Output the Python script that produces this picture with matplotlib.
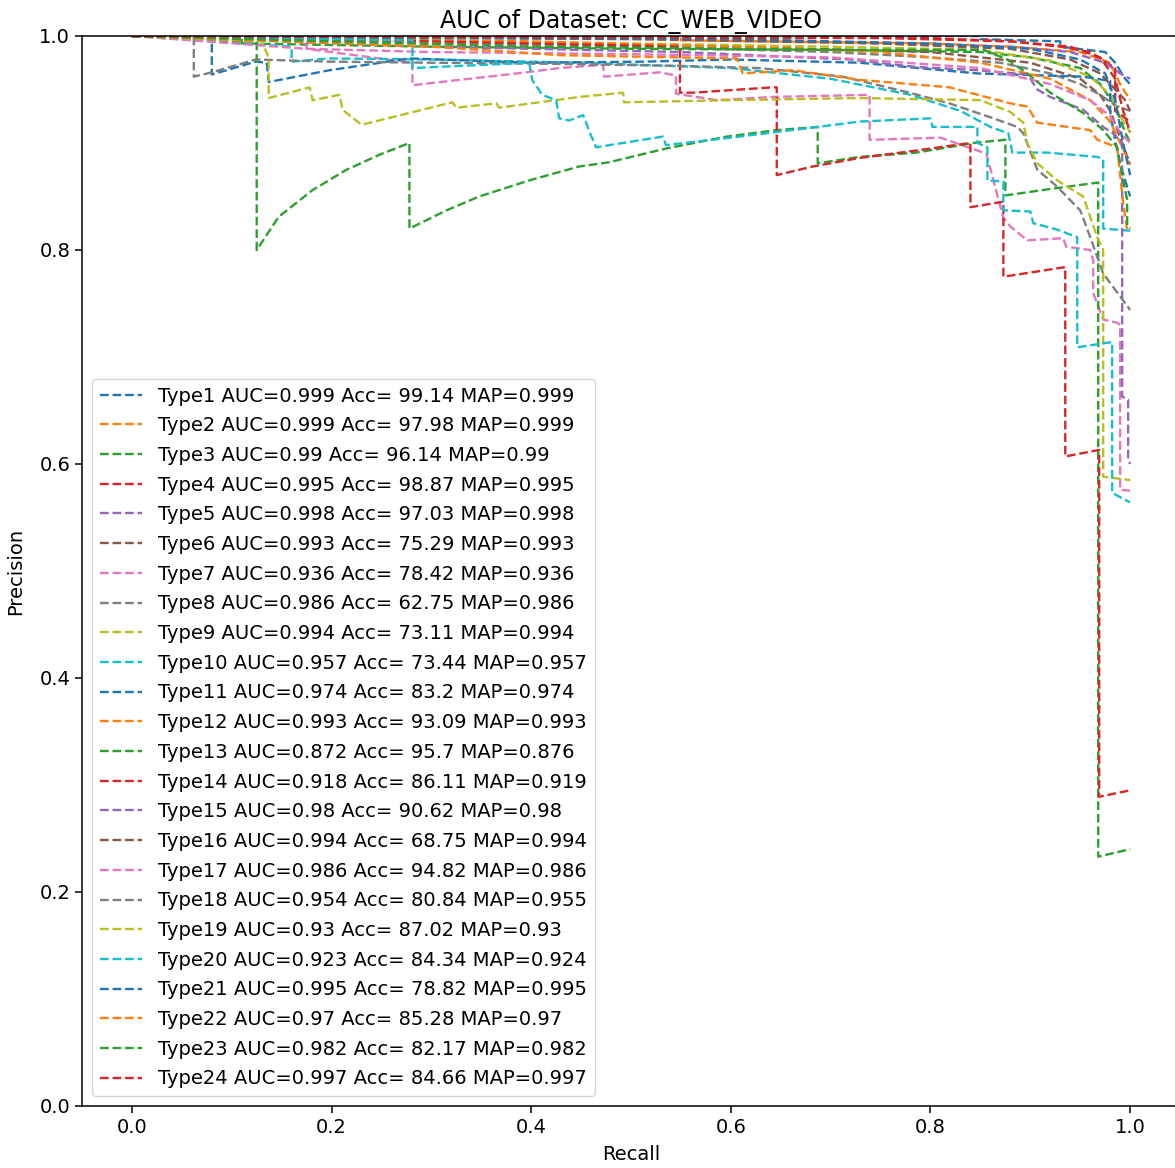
import matplotlib
matplotlib.use("Agg")
from matplotlib import pyplot as plt

# legend text for each type
types = ["Type%d" % i for i in range(1, 25)]
auc = [0.999, 0.999, 0.99, 0.995, 0.998, 0.993, 0.936, 0.986, 0.994, 0.957, 0.974, 0.993,
       0.872, 0.918, 0.98, 0.994, 0.986, 0.954, 0.93, 0.923, 0.995, 0.97, 0.982, 0.997]
acc = ["99.14", "97.98", "96.14", "98.87", "97.03", "75.29", "78.42", "62.75", "73.11", "73.44", "83.2", "93.09",
       "95.7", "86.11", "90.62", "68.75", "94.82", "80.84", "87.02", "84.34", "78.82", "85.28", "82.17", "84.66"]
maps = [0.999, 0.999, 0.99, 0.995, 0.998, 0.993, 0.936, 0.986, 0.994, 0.957, 0.974, 0.993,
        0.876, 0.919, 0.98, 0.994, 0.986, 0.955, 0.93, 0.924, 0.995, 0.97, 0.982, 0.997]

# recall / precision points
r1 = [0, 0.85, 0.85, 0.93, 0.93, 0.975, 0.985, 0.995, 1.0]
p1 = [1, 1, 0.997, 0.995, 0.99, 0.985, 0.975, 0.96, 0.955]
r2 = [0, 0.55, 0.55, 0.8, 0.88, 0.95, 0.98, 0.99, 1.0]
p2 = [1, 1, 0.996, 0.993, 0.99, 0.985, 0.975, 0.955, 0.94]
r3 = [0, 0.11, 0.11, 0.3, 0.5, 0.7, 0.85, 0.9, 0.95, 0.97, 0.985, 0.995, 1.0]
p3 = [1, 1, 0.993, 0.99, 0.988, 0.987, 0.985, 0.98, 0.97, 0.955, 0.935, 0.91, 0.90]
r4 = [0, 0.7, 0.8, 0.88, 0.93, 0.96, 0.985, 0.985, 1.0]
p4 = [1, 1, 0.998, 0.995, 0.99, 0.985, 0.97, 0.93, 0.92]
r5 = [0, 0.6, 0.75, 0.88, 0.94, 0.975, 0.99, 1.0]
p5 = [1, 0.997, 0.993, 0.99, 0.985, 0.975, 0.965, 0.96]
r6 = [0, 0.35, 0.6, 0.8, 0.9, 0.95, 0.97, 0.98, 0.99, 1.0]
p6 = [1, 0.995, 0.99, 0.985, 0.975, 0.96, 0.945, 0.93, 0.905, 0.88]
r7 = [0, 0.175, 0.175, 0.281, 0.281, 0.395, 0.428, 0.472, 0.473, 0.529, 0.545, 0.545, 0.586, 0.642,
      0.739, 0.739, 0.742, 0.81, 0.856, 0.873, 0.88, 0.897, 0.933, 0.936, 0.96, 0.963, 0.963, 0.973,
      0.987, 0.99, 0.99, 1.0]
p7 = [1, 0.995, 0.988, 0.975, 0.954, 0.966, 0.970, 0.973, 0.962, 0.966, 0.963, 0.946, 0.94, 0.943,
      0.945, 0.903, 0.903, 0.905, 0.89, 0.83, 0.822, 0.809, 0.811, 0.803, 0.80, 0.79, 0.76, 0.735,
      0.732, 0.73, 0.576, 0.575]
r8 = [0, 0.5, 0.7, 0.8, 0.87, 0.92, 0.95, 0.97, 0.985, 1.0]
p8 = [1, 0.99, 0.985, 0.98, 0.975, 0.965, 0.955, 0.945, 0.935, 0.93]
r9 = [0, 0.3, 0.5, 0.7, 0.85, 0.92, 0.96, 0.98, 0.99, 1.0]
p9 = [1, 0.995, 0.993, 0.99, 0.987, 0.977, 0.962, 0.945, 0.925, 0.91]
r10 = [0, 0.16, 0.16, 0.198, 0.3, 0.45, 0.6, 0.7, 0.78, 0.83, 0.86, 0.878, 0.882, 0.917, 0.967,
       0.973, 0.973, 1.0]
p10 = [1, 0.99, 0.976, 0.979, 0.978, 0.975, 0.97, 0.96, 0.945, 0.93, 0.915, 0.909, 0.891, 0.891,
       0.887, 0.885, 0.82, 0.818]
r11 = [0, 0.08, 0.08, 0.124, 0.135, 0.137, 0.198, 0.278, 0.4, 0.512, 0.6, 0.729, 0.847, 0.953,
       0.98, 0.98, 0.983, 0.99, 1.0]
p11 = [1, 1, 0.964, 0.976, 0.975, 0.957, 0.968, 0.979, 0.975, 0.976, 0.978, 0.975, 0.965, 0.962,
       0.958, 0.93, 0.912, 0.88, 0.85]
r12 = [0, 0.4, 0.6, 0.75, 0.85, 0.92, 0.96, 0.98, 0.99, 1.0]
p12 = [1, 0.995, 0.99, 0.985, 0.975, 0.96, 0.94, 0.92, 0.9, 0.88]
r13 = [0, 0.11, 0.125, 0.125, 0.147, 0.181, 0.215, 0.248, 0.278, 0.278, 0.315, 0.348, 0.398, 0.448,
       0.478, 0.536, 0.596, 0.646, 0.687, 0.687, 0.729, 0.786, 0.843, 0.875, 0.875, 0.92, 0.968,
       0.968, 1.0]
p13 = [1, 0.995, 0.995, 0.80, 0.831, 0.856, 0.875, 0.889, 0.90, 0.82, 0.837, 0.85, 0.865, 0.878,
       0.882, 0.895, 0.906, 0.912, 0.915, 0.881, 0.887, 0.891, 0.90, 0.903, 0.851, 0.857, 0.863,
       0.233, 0.24]
r14 = [0, 0.3, 0.549, 0.549, 0.562, 0.642, 0.646, 0.646, 0.682, 0.729, 0.786, 0.84, 0.84, 0.872,
       0.873, 0.873, 0.935, 0.935, 0.968, 0.969, 0.969, 1.0]
p14 = [1, 0.995, 0.99, 0.947, 0.947, 0.952, 0.952, 0.870, 0.878, 0.886, 0.893, 0.90, 0.84, 0.845,
       0.845, 0.775, 0.784, 0.607, 0.613, 0.613, 0.289, 0.295]
r15 = [0, 0.3, 0.55, 0.719, 0.786, 0.847, 0.897, 0.907, 0.92, 0.953, 0.973, 0.983, 0.992, 0.992,
       0.998, 0.998, 1.0]
p15 = [1, 0.99, 0.985, 0.978, 0.971, 0.968, 0.964, 0.95, 0.943, 0.931, 0.915, 0.909, 0.9, 0.663,
       0.66, 0.604, 0.60]
r16 = [0, 0.5, 0.75, 0.88, 0.94, 0.97, 0.985, 0.995, 1.0]
p16 = [1, 0.997, 0.993, 0.988, 0.978, 0.965, 0.95, 0.94, 0.93]
r17 = [0, 0.175, 0.3, 0.5, 0.7, 0.85, 0.92, 0.96, 0.98, 0.99, 1.0]
p17 = [1, 0.988, 0.985, 0.983, 0.98, 0.97, 0.955, 0.94, 0.925, 0.91, 0.90]
r18 = [0, 0.062, 0.062, 0.08, 0.124, 0.2, 0.3, 0.42, 0.55, 0.629, 0.712, 0.779, 0.819, 0.86,
       0.887, 0.893, 0.907, 0.927, 0.95, 0.96, 0.973, 1.0]
p18 = [1, 1, 0.962, 0.966, 0.978, 0.976, 0.975, 0.974, 0.972, 0.97, 0.962, 0.947, 0.937, 0.924,
       0.915, 0.909, 0.875, 0.859, 0.837, 0.812, 0.778, 0.744]
r19 = [0, 0.13, 0.137, 0.137, 0.178, 0.181, 0.208, 0.211, 0.23, 0.321, 0.325, 0.365, 0.368, 0.448,
       0.492, 0.493, 0.6, 0.729, 0.85, 0.88, 0.893, 0.897, 0.907, 0.927, 0.953, 0.967, 0.973, 0.973, 1.0]
p19 = [1, 0.995, 0.98, 0.942, 0.952, 0.94, 0.945, 0.931, 0.917, 0.938, 0.933, 0.937, 0.933, 0.943,
       0.947, 0.938, 0.94, 0.942, 0.94, 0.929, 0.919, 0.9, 0.881, 0.865, 0.85, 0.812, 0.80, 0.588, 0.585]
r20 = [0, 0.281, 0.281, 0.398, 0.401, 0.411, 0.425, 0.428, 0.438, 0.452, 0.453, 0.459, 0.465, 0.532,
       0.535, 0.6, 0.687, 0.729, 0.80, 0.802, 0.847, 0.847, 0.857, 0.857, 0.873, 0.873, 0.90, 0.903,
       0.927, 0.947, 0.947, 0.982, 0.982, 1.0]
p20 = [1, 0.996, 0.970, 0.975, 0.959, 0.945, 0.940, 0.923, 0.921, 0.926, 0.924, 0.909, 0.896, 0.906,
       0.898, 0.905, 0.915, 0.92, 0.923, 0.915, 0.915, 0.90, 0.896, 0.865, 0.864, 0.837, 0.836, 0.825,
       0.819, 0.812, 0.709, 0.714, 0.573, 0.564]
r21 = [0, 0.6, 0.8, 0.9, 0.95, 0.975, 0.985, 0.993, 1.0]
p21 = [1, 0.997, 0.993, 0.988, 0.978, 0.965, 0.94, 0.9, 0.87]
r22 = [0, 0.3, 0.43, 0.546, 0.606, 0.612, 0.662, 0.729, 0.819, 0.88, 0.897, 0.907, 0.96, 0.967,
       0.987, 0.993, 0.997, 1.0]
p22 = [1, 0.99, 0.982, 0.98, 0.979, 0.965, 0.968, 0.959, 0.952, 0.937, 0.934, 0.919, 0.912, 0.903,
       0.896, 0.844, 0.819, 0.818]
r23 = [0, 0.4, 0.719, 0.853, 0.877, 0.897, 0.92, 0.953, 0.973, 0.987, 0.993, 0.997, 0.997, 1.0]
p23 = [1, 0.99, 0.987, 0.987, 0.978, 0.965, 0.947, 0.928, 0.912, 0.896, 0.865, 0.847, 0.823, 0.82]
r24 = [0, 0.75, 0.88, 0.94, 0.97, 0.985, 0.993, 1.0]
p24 = [1, 0.998, 0.995, 0.99, 0.98, 0.96, 0.93, 0.91]

recalls = [r1, r2, r3, r4, r5, r6, r7, r8, r9, r10, r11, r12,
           r13, r14, r15, r16, r17, r18, r19, r20, r21, r22, r23, r24]
precisions = [p1, p2, p3, p4, p5, p6, p7, p8, p9, p10, p11, p12,
              p13, p14, p15, p16, p17, p18, p19, p20, p21, p22, p23, p24]

fig = plt.figure(figsize=(11.75, 11.68), dpi=100)
ax = fig.add_axes([0.0698, 0.0531, 0.9345, 0.9161])

for i in range(len(types)):
    lab = "%s AUC=%s Acc= %s MAP=%s" % (types[i], auc[i], acc[i], maps[i])
    ax.plot(recalls[i], precisions[i], linestyle="--", linewidth=1.7, label=lab)

ax.set_xlim(-0.05, 1.05)
ax.set_ylim(0.0, 1.0)
ax.tick_params(labelsize=14, length=5, width=1.1)
for s in ax.spines.values():
    s.set_linewidth(1.1)
ax.set_xlabel("Recall", fontsize=14, labelpad=6)
ax.set_ylabel("Precision", fontsize=14, labelpad=10)
ax.set_title("AUC of Dataset: CC_WEB_VIDEO", fontsize=17)
ax.legend(loc="lower left", fontsize=14, labelspacing=0.55, handlelength=2.2)

plt.savefig("out.png", dpi=100)
plt.close()
